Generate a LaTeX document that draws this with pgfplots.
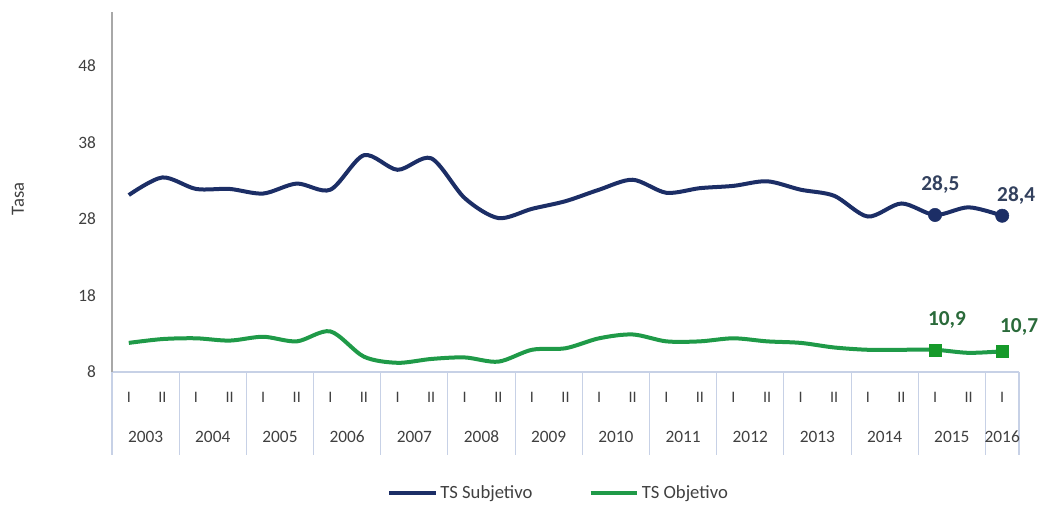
\documentclass[border=0pt]{standalone}
\usepackage{fontspec}
\setmainfont{Carlito}
\usepackage{pgfplots}
\pgfplotsset{compat=1.18}
\definecolor{navy}{HTML}{1C2E66}
\definecolor{grn}{HTML}{1F9A48}
\definecolor{mkgrn}{HTML}{169A2A}
\definecolor{sep}{HTML}{C7D1E6}
\definecolor{yax}{HTML}{A8A8A8}
\definecolor{txt}{HTML}{404040}
\definecolor{lblblue}{HTML}{33415E}
\definecolor{lblgrn}{HTML}{2A6A3A}

\begin{document}
\begin{tikzpicture}
\useasboundingbox (-84pt,-100.5pt) rectangle (701.25pt,279pt);
\begin{axis}[
  at={(0,0)}, anchor=south west,
  width=680.25pt, height=270pt, scale only axis,
  xmin=-0.5, xmax=26.5, ymin=8, ymax=55,
  axis x line*=bottom, axis y line*=left,
  x axis line style={sep, line width=0.8pt},
  y axis line style={yax, line width=0.8pt},
  /pgf/number format/assume math mode=true,
  ytick={8,18,28,38,48}, ytick style={draw=none},
  yticklabel style={font=\fontsize{13}{13}\selectfont, text=txt, xshift=-8.5pt},
  xtick={0,...,26},
  xticklabels={I,II,I,II,I,II,I,II,I,II,I,II,I,II,I,II,I,II,I,II,I,II,I,II,I,II,I},
  xtick style={draw=none},
  xticklabel style={font=\fontsize{12}{12}\selectfont, text=txt, anchor=center, yshift=-18.75pt},
  clip=false,
  legend style={at={(axis description cs:0.5,0)}, anchor=center, xshift=-5pt, yshift=-91pt,
    draw=none, fill=none, font=\fontsize{14}{14}\selectfont, text=txt,
    legend columns=2, /tikz/every even column/.append style={column sep=40pt}},
  legend image code/.code={\draw[#1, line width=3pt] (0,0) -- (35pt,0);},
]
\addplot[navy, line width=3pt, smooth, tension=0.5] coordinates {
  (0,31.1) (1,33.4) (2,31.9) (3,31.9) (4,31.3) (5,32.6) (6,31.8) (7,36.3) (8,34.4)
  (9,35.9) (10,30.7) (11,28.1) (12,29.3) (13,30.3) (14,31.8) (15,33.1) (16,31.4)
  (17,32.0) (18,32.3) (19,32.9) (20,31.8) (21,31.0) (22,28.3) (23,30.0) (24,28.5)
  (25,29.5) (26,28.4)};
\addlegendentry{TS Subjetivo}
\addplot[grn, line width=3pt, smooth, tension=0.5] coordinates {
  (0,11.8) (1,12.3) (2,12.4) (3,12.1) (4,12.6) (5,12.0) (6,13.3) (7,10.0) (8,9.2)
  (9,9.7) (10,9.9) (11,9.35) (12,10.9) (13,11.1) (14,12.4) (15,12.9) (16,12.0)
  (17,12.0) (18,12.4) (19,12.0) (20,11.8) (21,11.2) (22,10.9) (23,10.9) (24,10.9)
  (25,10.5) (26,10.7)};
\addlegendentry{TS Objetivo}
\addplot[only marks, mark=*, mark size=5pt, navy, forget plot] coordinates {(24,28.5) (26,28.4)};
\addplot[only marks, mark=square*, mark size=4.5pt, mkgrn, forget plot] coordinates {(24,10.9) (26,10.7)};
% separators of the category table
\pgfplotsinvokeforeach{-0.5,1.5,...,25.5}{\draw[sep, line width=0.8pt] (axis cs:#1,8) -- ++(0pt,-62pt);}
\draw[sep, line width=0.8pt] (axis cs:26.5,8) -- ++(0pt,-62pt);
\pgfplotsinvokeforeach{2003,...,2015}{\node[font=\fontsize{13}{13}\selectfont, text=txt] at (axis cs:{2*(#1-2003)+0.5},8) [yshift=-48.75pt] {#1};}
\node[font=\fontsize{13}{13}\selectfont, text=txt] at (axis cs:26,8) [yshift=-48.75pt] {2016};
% end labels
\node[font=\bfseries\fontsize{16}{16}\selectfont, text=lblblue] at (axis cs:24,28.5) [xshift=4pt, yshift=22.5pt] {28,5};
\node[font=\bfseries\fontsize{16}{16}\selectfont, text=lblblue] at (axis cs:26,28.4) [xshift=10.5pt, yshift=15pt] {28,4};
\node[font=\bfseries\fontsize{16}{16}\selectfont, text=lblgrn] at (axis cs:24,10.9) [xshift=9pt, yshift=22.5pt] {10,9};
\node[font=\bfseries\fontsize{16}{16}\selectfont, text=lblgrn] at (axis cs:26,10.7) [xshift=12.7pt, yshift=18pt] {10,7};
\end{axis}
\node[rotate=90, font=\fontsize{14}{14}\selectfont, text=txt] at (-70.5pt,129.75pt) {Tasa};
\end{tikzpicture}
\end{document}
